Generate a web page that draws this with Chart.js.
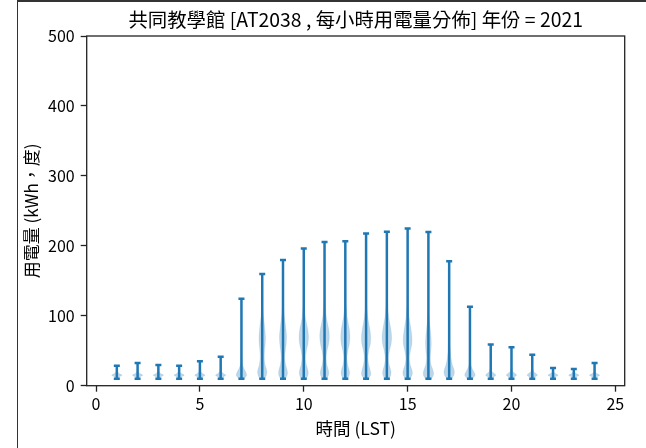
<!DOCTYPE html>
<html><head><meta charset="utf-8">
<script src="https://cdn.jsdelivr.net/npm/chart.js@4.4.0/dist/chart.umd.min.js"></script>
<style>
html,body{margin:0;padding:0;background:#fff;overflow:hidden}
#wrap{position:relative;width:646px;height:448px}
#c{position:absolute;left:0;top:0}
.bl{position:absolute;left:16.5px;top:0;width:1.5px;height:448px;background:#333}
.bt{position:absolute;left:16.5px;top:0;width:630px;height:1.5px;background:#333}
</style></head><body>
<div id="wrap"><canvas id="c" width="646" height="448"></canvas><div class="bl"></div><div class="bt"></div></div>
<script>
const hours = [1,2,3,4,5,6,7,8,9,10,11,12,13,14,15,16,17,18,19,20,21,22,23,24];
const maxUsage = [28.6,32.4,29.6,28.6,34.8,41.4,124.3,159.6,179.6,196.3,205.3,206.5,217.7,220,224.8,219.6,178,112.9,59,54.8,44.3,25.3,23.9,32.4];
const minUsage = [10,10,10,10,10,10,10,10,10,10,10,10,10,10,10,10,10,10,10,10,10,10,10,10];
const densityLevels = [10,13,15,17,20,25,30,40,50,60,70,80,90,100,120,150,200];
const densityWidths = [
  [0.15,0.55,1.0,0.55,0.12,0.04,0.02,0.01,0.01,0.01,0.01,0.01,0.01,0.01,0.01,0.01,0.01],
  [0.15,0.55,1.0,0.55,0.12,0.04,0.02,0.01,0.01,0.01,0.01,0.01,0.01,0.01,0.01,0.01,0.01],
  [0.15,0.55,1.0,0.55,0.12,0.04,0.02,0.01,0.01,0.01,0.01,0.01,0.01,0.01,0.01,0.01,0.01],
  [0.15,0.55,1.0,0.55,0.12,0.04,0.02,0.01,0.01,0.01,0.01,0.01,0.01,0.01,0.01,0.01,0.01],
  [0.2,0.6,1.0,0.6,0.2,0.06,0.03,0.02,0.01,0.01,0.01,0.01,0.01,0.01,0.01,0.01,0.01],
  [0.2,0.6,1.0,0.6,0.2,0.06,0.03,0.02,0.01,0.01,0.01,0.01,0.01,0.01,0.01,0.01,0.01],
  [0.55,0.85,1.0,0.95,0.8,0.45,0.22,0.08,0.04,0.03,0.02,0.02,0.01,0.01,0.01,0.01,0.01],
  [0.5,0.7,0.8,0.85,0.9,0.75,0.55,0.4,0.45,0.58,0.62,0.52,0.38,0.22,0.08,0.02,0.01],
  [0.5,0.7,0.8,0.85,0.85,0.7,0.5,0.35,0.45,0.62,0.68,0.58,0.42,0.25,0.1,0.03,0.01],
  [0.5,0.7,0.8,0.85,0.85,0.7,0.5,0.35,0.5,0.8,0.9,0.78,0.5,0.28,0.1,0.03,0.01],
  [0.45,0.65,0.75,0.8,0.8,0.65,0.45,0.32,0.48,0.78,0.92,0.82,0.55,0.32,0.12,0.03,0.01],
  [0.45,0.65,0.75,0.8,0.8,0.65,0.45,0.32,0.48,0.78,0.88,0.78,0.55,0.32,0.12,0.03,0.01],
  [0.5,0.7,0.85,0.9,0.85,0.7,0.5,0.35,0.5,0.82,0.88,0.74,0.5,0.3,0.1,0.03,0.01],
  [0.45,0.65,0.75,0.8,0.8,0.65,0.45,0.32,0.5,0.82,0.92,0.78,0.55,0.32,0.12,0.03,0.01],
  [0.5,0.7,0.85,0.9,0.9,0.72,0.5,0.35,0.55,0.82,0.82,0.66,0.45,0.26,0.1,0.03,0.01],
  [0.6,0.85,0.95,1.0,0.95,0.75,0.5,0.38,0.48,0.55,0.5,0.38,0.24,0.13,0.05,0.02,0.01],
  [0.5,0.75,0.9,0.97,1.0,0.85,0.6,0.35,0.22,0.15,0.1,0.06,0.04,0.03,0.02,0.01,0.01],
  [0.55,0.85,1.0,0.95,0.75,0.4,0.18,0.06,0.03,0.02,0.02,0.01,0.01,0.01,0.01,0.01,0.01],
  [0.2,0.65,1.0,0.75,0.3,0.1,0.05,0.02,0.01,0.01,0.01,0.01,0.01,0.01,0.01,0.01,0.01],
  [0.2,0.65,1.0,0.75,0.3,0.1,0.05,0.02,0.01,0.01,0.01,0.01,0.01,0.01,0.01,0.01,0.01],
  [0.2,0.65,1.0,0.75,0.3,0.1,0.05,0.02,0.01,0.01,0.01,0.01,0.01,0.01,0.01,0.01,0.01],
  [0.15,0.55,1.0,0.55,0.12,0.04,0.02,0.01,0.01,0.01,0.01,0.01,0.01,0.01,0.01,0.01,0.01],
  [0.15,0.55,1.0,0.55,0.12,0.04,0.02,0.01,0.01,0.01,0.01,0.01,0.01,0.01,0.01,0.01,0.01],
  [0.15,0.55,1.0,0.55,0.12,0.04,0.02,0.01,0.01,0.01,0.01,0.01,0.01,0.01,0.01,0.01,0.01]
];
const xTickValues = [0,5,10,15,20,25];
const yTickValues = [0,100,200,300,400,500];
const titleText = '共同教學館 [AT2038 , 每小時用電量分佈] 年份 = 2021';
const xLabel = '時間 (LST)';
const yLabel = '用電量 (kWh，度)';

const FONT = "'Noto Sans CJK TC','Noto Sans CJK JP','Noto Sans',sans-serif";
const C0 = '#1f77b4';
const BODY = 'rgba(31,119,180,0.3)';
const HALF = 0.25;

const violinDatasets = hours.map((h, i) => {
  const w = densityWidths[i];
  const lo = minUsage[i], hi = maxUsage[i];
  const prof = [{v: lo, w: w[0]}];
  densityLevels.forEach((lv, k) => { if (lv > lo && lv < hi) prof.push({v: lv, w: w[k]}); });
  prof.push({v: hi, w: 0.004});
  const right = prof.map(p => ({x: h + HALF * p.w, y: p.v}));
  const left = prof.slice().reverse().map(p => ({x: h - HALF * p.w, y: p.v}));
  return {
    type: 'line', data: right.concat(left), fill: 'shape',
    backgroundColor: BODY, borderColor: 'rgba(31,119,180,0.12)', borderWidth: 0.8,
    pointRadius: 0, tension: 0.3, order: 3
  };
});

const rangeData = [];
hours.forEach((h, i) => { rangeData.push({x: h, y: minUsage[i]}, {x: h, y: maxUsage[i]}, {x: h, y: null}); });
const capData = [];
hours.forEach((h, i) => { capData.push({x: h, y: minUsage[i]}, {x: h, y: maxUsage[i]}); });

const framePlugin = {
  id: 'frame',
  afterDatasetsDraw(chart) {
    const {ctx, chartArea: {left, top, right, bottom}} = chart;
    ctx.save();
    ctx.strokeStyle = '#222';
    ctx.lineWidth = 1.3;
    ctx.strokeRect(left, top, right - left, bottom - top);
    ctx.restore();
  }
};

new Chart(document.getElementById('c'), {
  type: 'scatter',
  data: {
    datasets: [
      ...violinDatasets,
      {type: 'line', data: rangeData, borderColor: C0, borderWidth: 2.5, pointRadius: 0, spanGaps: false, fill: false, order: 1},
      {type: 'scatter', data: capData, pointStyle: 'line', pointRadius: 3, pointBorderWidth: 2.5, pointBorderColor: C0, pointBackgroundColor: C0, order: 0}
    ]
  },
  options: {
    responsive: false,
    animation: false,
    events: [],
    layout: {padding: {left: 0, right: 21.3, top: 0, bottom: 0}},
    plugins: {
      legend: {display: false},
      tooltip: {enabled: false},
      title: {display: false}
    },
    scales: {
      x: {
        type: 'linear', min: -0.45, max: 25.45, offset: false,
        afterBuildTicks: s => { s.ticks = xTickValues.map(v => ({value: v})); },
        afterFit: s => { s.height = 62.3; },
        ticks: {color: '#000', font: {family: FONT, size: 16}, padding: 3, maxRotation: 0, autoSkip: false},
        grid: {drawOnChartArea: false, drawTicks: true, tickLength: 6, tickColor: '#222', tickWidth: 1.3, offset: false},
        border: {display: false},
        title: {display: true, text: xLabel, color: '#000', font: {family: FONT, size: 17.5}, padding: {top: 0, bottom: 9.5}}
      },
      xTop: {
        type: 'linear', position: 'top', min: -0.45, max: 25.45, offset: false,
        afterFit: s => { s.height = 36; },
        ticks: {display: false},
        grid: {display: false, drawTicks: false},
        border: {display: false},
        title: {display: true, text: titleText, color: '#000', font: {family: FONT, size: 19.4}, padding: {top: 8.4, bottom: 0}}
      },
      y: {
        type: 'linear', min: 0, max: 500,
        afterBuildTicks: s => { s.ticks = yTickValues.map(v => ({value: v})); },
        afterFit: s => { s.width = 86.7; },
        ticks: {color: '#000', font: {family: FONT, size: 16}, padding: 6},
        grid: {drawOnChartArea: false, drawTicks: true, tickLength: 6, tickColor: '#222', tickWidth: 1.3},
        border: {display: false},
        title: {display: true, text: yLabel, color: '#000', font: {family: FONT, size: 17}, padding: {top: 21.8, bottom: 0}}
      }
    }
  },
  plugins: [framePlugin]
});
</script>
</body></html>
